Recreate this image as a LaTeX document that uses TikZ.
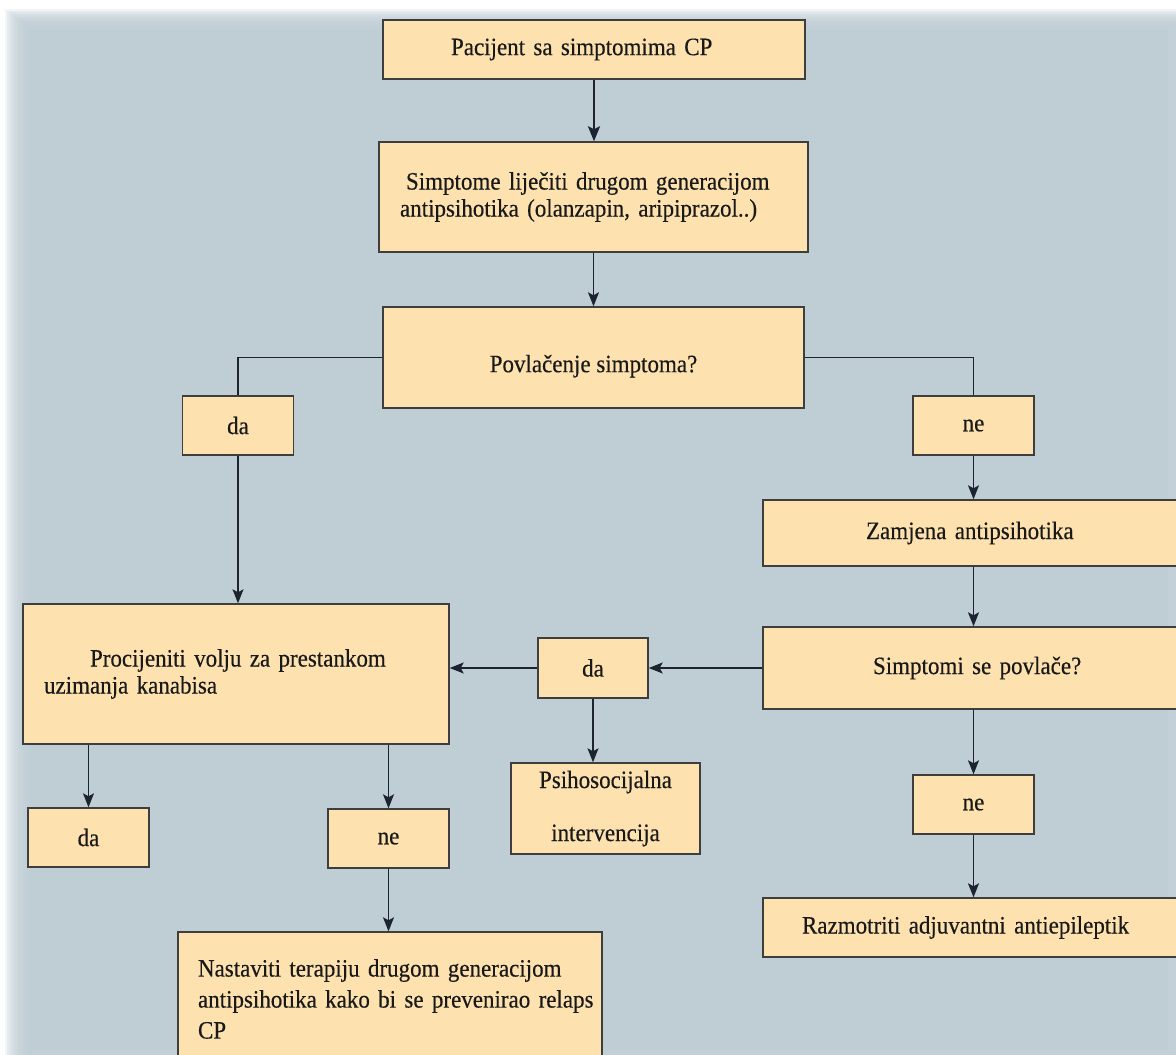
\documentclass[tikz,border=0pt]{standalone}
\usepackage{fontspec}
\setmainfont[FakeStretch=0.92,FakeBold=0.35]{Liberation Serif}
\usetikzlibrary{arrows.meta,calc}
\definecolor{panelc}{RGB}{191,205,213}
\definecolor{boxc}{RGB}{253,226,176}
\definecolor{bordc}{RGB}{62,62,62}
\definecolor{arrc}{RGB}{28,36,50}
\begin{document}
\begin{tikzpicture}[x=1pt,y=-1pt,
  box/.style={draw=bordc, fill=boxc, line width=1.4pt, rectangle, inner sep=0pt,
              font=\fontsize{25}{27}\selectfont, align=center, text=black!90},
  lbox/.style n args={2}{box, align=left, inner xsep=#1, text width=#2},
  conn/.style={draw=arrc, line width=1.4pt},
  arr/.style={conn, -{Stealth[length=14pt,width=11pt,inset=3pt]}},
  thickarr/.style={draw=arrc, line width=2.4pt, -{Stealth[length=15pt,width=12pt,inset=3pt]}}]
\useasboundingbox (0,0) rectangle (1176,1055);
\clip (0,0) rectangle (1176,1055);
\fill[white] (0,0) rectangle (1176,1055);
\foreach \i in {0,...,11}{
  \fill[panelc,opacity=0.2] ({5+2*\i},{9+1.5*\i}) rectangle ({1182-0.6*\i},{1062-0.6*\i});
}
\fill[panelc] (30,30) rectangle (1168,1050);

% nodes
\node[lbox={68pt}{286pt}, minimum width=422pt, minimum height=59pt] (n1) at (594,49.5)
  {\mbox{Pacijent sa simptomima CP}};
\node[lbox={21pt}{387pt}, minimum width=429pt, minimum height=110pt] (n2) at (593.5,197)
  {\mbox{\hspace*{6pt}Simptome liječiti drugom generacijom}\\\mbox{antipsihotika (olanzapin, aripiprazol..)}};
\node[box, minimum width=421pt, minimum height=101pt] (n3) at (593.5,357.5)
  {\raisebox{-6pt}[\height][0pt]{Povlačenje simptoma?}};
\node[box, minimum width=111pt, minimum height=59pt] (da1) at (238,425.5) {da};
\node[box, minimum width=121pt, minimum height=59pt] (ne1) at (973.5,425.5) {ne};
\node[lbox={103pt}{221pt}, minimum width=427pt, minimum height=66pt] (zam) at (976.5,533)
  {\mbox{Zamjena antipsihotika}};
\node[lbox={110pt}{207pt}, minimum width=427pt, minimum height=82pt] (simp) at (976.5,668)
  {\mbox{Simptomi se povlače?}};
\node[box, minimum width=121pt, minimum height=59pt] (ne2) at (973.5,804.5) {ne};
\node[lbox={39pt}{349pt}, minimum width=427pt, minimum height=59pt] (razm) at (976.5,927.5)
  {\mbox{Razmotriti adjuvantni antiepileptik}};
\node[box, minimum width=110pt, minimum height=60pt] (da2) at (593,668) {da};
\node[box, minimum width=189pt, minimum height=91pt] (psy) at (605.5,808.5)
  {Psihosocijalna\\[26pt]intervencija};
\node[lbox={21pt}{384pt}, minimum width=426pt, minimum height=140pt] (proc) at (236,674)
  {\mbox{\hspace*{46pt}Procijeniti volju za prestankom}\\\mbox{uzimanja kanabisa}};
\node[box, minimum width=121pt, minimum height=59pt] (da3) at (88.5,837.5) {da};
\node[box, minimum width=121pt, minimum height=59pt] (ne3) at (388.5,838.5) {ne};
\node[lbox={20pt}{384pt}, minimum width=424pt, minimum height=134pt,
      font=\fontsize{25}{31}\selectfont] (nast) at (390,999)
  {\mbox{Nastaviti terapiju drugom generacijom}\\\mbox{antipsihotika kako bi se prevenirao relaps}\\\mbox{CP}};

% connectors
\draw[thickarr] (n1.south) -- (n1.south |- n2.north);
\draw[arr] (n2.south) -- (n2.south |- n3.north);
\draw[conn] (n3.west) -| (da1.north);
\draw[conn] (n3.east) -| (ne1.north);
\draw[arr] (da1.south) -- (da1.south |- proc.north);
\draw[arr] (ne1.south) -- (ne1.south |- zam.north);
\draw[arr] (zam.south -| ne1.south) -- (simp.north -| ne1.south);
\draw[arr] (simp.south -| ne2.north) -- (ne2.north);
\draw[arr] (ne2.south) -- (ne2.south |- razm.north);
\draw[arr] (simp.west) -- (simp.west -| da2.east);
\draw[arr] (da2.west) -- (da2.west -| proc.east);
\draw[arr] (da2.south) -- (da2.south |- psy.north);
\draw[arr] (da3.north |- proc.south) -- (da3.north);
\draw[arr] (ne3.north |- proc.south) -- (ne3.north);
\draw[arr] (ne3.south) -- (ne3.south |- nast.north);
\end{tikzpicture}
\end{document}
